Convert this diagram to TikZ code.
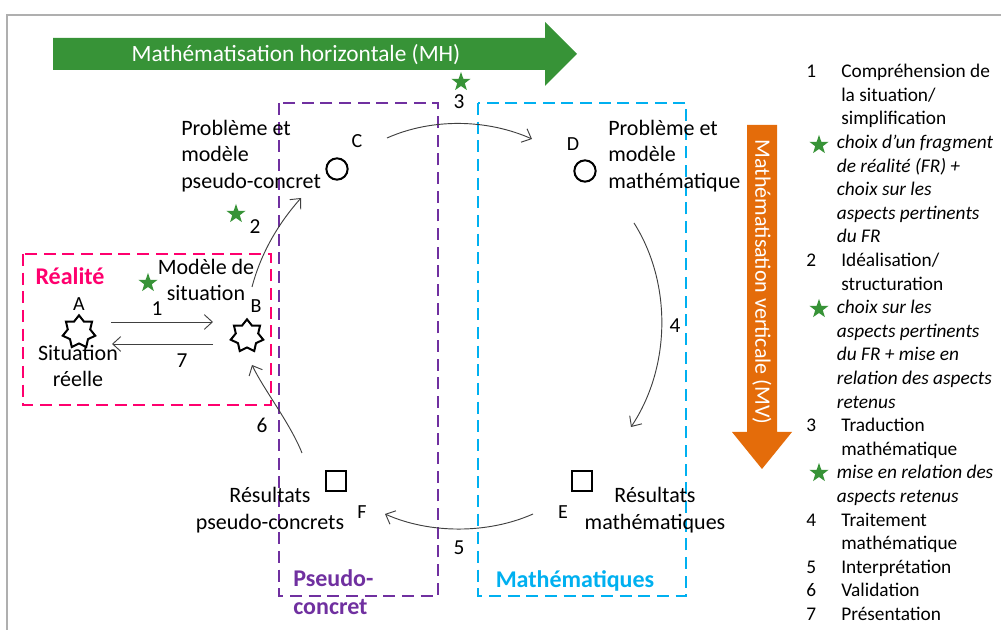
\documentclass[tikz,border=0pt]{standalone}
\usepackage{fontspec}
\setmainfont{Carlito}
\usetikzlibrary{shapes.geometric, arrows.meta, calc, positioning}

\definecolor{vertMH}{RGB}{55,147,55}
\definecolor{orangeMV}{RGB}{228,108,10}
\definecolor{roseR}{RGB}{255,0,110}
\definecolor{violetPC}{RGB}{112,48,160}
\definecolor{cyanM}{RGB}{0,176,240}
\definecolor{gristrait}{RGB}{64,64,64}
\definecolor{griscadre}{RGB}{175,175,175}

\newcommand{\lnum}[1]{\makebox[26.25pt][l]{#1}}
\newcommand{\lital}[1]{\hspace*{23pt}\textit{#1}}

\tikzset{
  etoile/.style={star, star points=5, star point ratio=2.5, fill=vertMH, draw=none,
    minimum size=15pt, inner sep=0pt},
  situ/.style={star, star points=7, star point ratio=1.45, draw, line width=1.5pt,
    minimum size=25pt, inner sep=0pt},
  rond/.style={circle, draw, line width=1.5pt, minimum size=16pt, inner sep=0pt},
  carre/.style={rectangle, draw, line width=1.5pt, minimum size=14.5pt, inner sep=0pt},
  fleche/.style={draw=gristrait, line width=0.7pt, -{Straight Barb[length=6pt,width=11pt]}},
  zone/.style={dash pattern=on 9pt off 5pt, line width=1.9pt},
  bandeau/.style={text=white, font=\fontsize{17.5}{21}\selectfont, inner sep=0pt},
  titre/.style={font=\bfseries\fontsize{18}{21}\selectfont, inner sep=0pt},
  lettre/.style={font=\fontsize{15}{18}\selectfont, inner sep=0pt},
  etiq/.style={font=\fontsize{16.5}{19.9}\selectfont, inner sep=0pt},
  num/.style={font=\fontsize{16}{19}\selectfont, inner sep=0pt},
}

\begin{document}
\begin{tikzpicture}[x=0.75pt, y=-0.75pt]
  \useasboundingbox (0,0) rectangle (1001,630);
  % cadre
  \draw[griscadre, line width=1.1pt] (7,630) -- (7,15) -- (1001,15);

  % fleches MH et MV
  \fill[vertMH] (53,38) -- (545,38) -- (545,22) -- (577,54) -- (545,86) -- (545,70) -- (53,70) -- cycle;
  \node[bandeau] (MH) at (296,55) {Mathématisation horizontale (MH)};
  \fill[orangeMV] (747,125) -- (777,125) -- (777,432) -- (792,432) -- (762,469) -- (732,432) -- (747,432) -- cycle;
  \node[bandeau, font=\fontsize{16.5}{20}\selectfont, rotate=-90] (MV) at (762,282) {Mathématisation verticale (MV)};

  % zones
  \draw[zone, roseR] (23,254) rectangle (271,405);
  \draw[zone, violetPC] (279,103) rectangle (438,596);
  \draw[zone, cyanM] (478,103) rectangle (686,596);
  \node[titre, roseR] (realite) at (70,276) {Réalité};
  \node[titre, violetPC, align=left, anchor=west] (pseudo) at (293,592) {Pseudo-\\concret};
  \node[titre, cyanM] (maths) at (575,581) {Mathématiques};

  % etats
  \node[situ] (A) at (79,332) {};
  \node[situ] (B) at (247,336) {};
  \node[rond] (C) at (337,169) {};
  \node[rond] (D) at (585,171) {};
  \node[carre] (E) at (582,481) {};
  \node[carre] (F) at (336,481) {};
  \node[lettre] (lA) at (79,304) {A};
  \node[lettre] (lB) at (256,306) {B};
  \node[lettre] (lC) at (357,141) {C};
  \node[lettre] (lD) at (573,144) {D};
  \node[lettre] (lE) at (563,512) {E};
  \node[lettre] (lF) at (362,512) {F};

  \node[etiq, align=center] (sitA) at (78,366) {Situation\\réelle};
  \node[etiq, align=center] (sitB) at (206,280) {Modèle de\\situation};
  \node[etiq, align=left, anchor=west] (probC) at (181,156) {Problème et\\modèle\\pseudo-concret};
  \node[etiq, align=left, anchor=west] (probD) at (608,156) {Problème et\\modèle\\mathématique};
  \node[etiq, align=center] (resE) at (655,510) {Résultats\\mathématiques};
  \node[etiq, align=center] (resF) at (270,510) {Résultats\\pseudo-concrets};

  % transitions
  \draw[fleche] ($(A)+(32,-10)$) -- ($(B)+(-34,-14)$);
  \draw[fleche] ($(B)+(-34,8)$) -- ($(A)+(33,12)$);
  \draw[fleche] ($(B)+(5,-49)$) .. controls +(9,-34) and +(-23,26) .. ($(C)+(-36,29)$);
  \draw[fleche] ($(C)+(50,-31)$) .. controls +(45,-20) and +(-45,-20) .. ($(D)+(-53,-32)$);
  \draw[fleche] ($(D)+(49,52)$) .. controls +(38,60) and +(40,-60) .. ($(E)+(49,-54)$);
  \draw[fleche] ($(E)+(-49,33)$) .. controls +(-45,20) and +(45,20) .. ($(F)+(49,33)$);
  \draw[fleche] ($(F)+(-34,-28)$) .. controls +(-12,-30) and +(12,25) .. ($(B)+(5,29)$);

  \node[num] (n1) at (157,309) {1};
  \node[num] (n7) at (182,361) {7};
  \node[num] (n2) at (255,227) {2};
  \node[num] (n3) at (459,102) {3};
  \node[num] (n4) at (675,326) {4};
  \node[num] (n5) at (459,548) {5};
  \node[num] (n6) at (262,425) {6};

  \node[etoile] (e1) at (148,283) {};
  \node[etoile] (e2) at (236,214) {};
  \node[etoile] (e3) at (461,82) {};

  % legende
  \node[font=\fontsize{14.5}{17.7}\selectfont, align=left, anchor=north west, inner sep=0pt]
    (legende) at (806,64) {\lnum{1}Compréhension de\\%
    \lnum{}la situation/\\%
    \lnum{}simplification\\%
    \lital{choix d’un fragment}\\%
    \lital{de réalité (FR) +}\\%
    \lital{choix sur les}\\%
    \lital{aspects pertinents}\\%
    \lital{du FR}\\%
    \lnum{2}Idéalisation/\\%
    \lnum{}structuration\\%
    \lital{choix sur les}\\%
    \lital{aspects pertinents}\\%
    \lital{du FR + mise en}\\%
    \lital{relation des aspects}\\%
    \lital{retenus}\\%
    \lnum{3}Traduction\\%
    \lnum{}mathématique\\%
    \lital{mise en relation des}\\%
    \lital{aspects retenus}\\%
    \lnum{4}Traitement\\%
    \lnum{}mathématique\\%
    \lnum{5}Interprétation\\%
    \lnum{6}Validation\\%
    \lnum{7}Présentation};
  \node[etoile] (le1) at (819,145) {};
  \node[etoile] (le2) at (819,309) {};
  \node[etoile] (le3) at (819,473) {};
\end{tikzpicture}
\end{document}
